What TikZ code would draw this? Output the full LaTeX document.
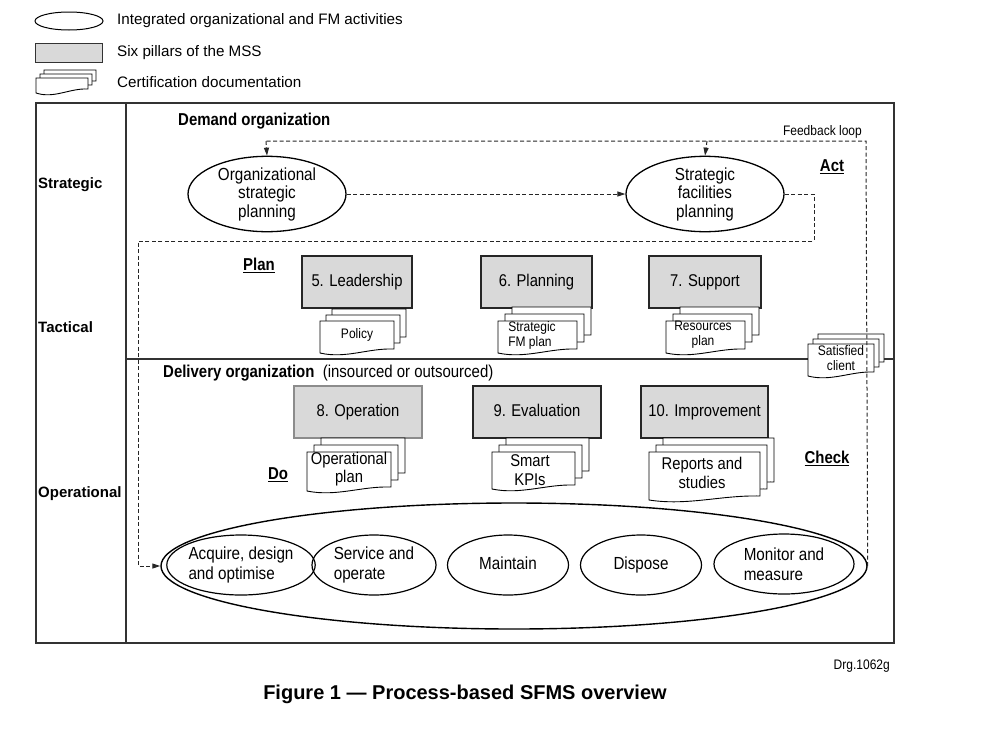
\documentclass[tikz,border=0pt]{standalone}
\usepackage{fontspec}
\setmainfont{Liberation Sans}
\newfontfamily\nar[FakeStretch=0.87,Ligatures=TeX]{Liberation Sans}
\usetikzlibrary{shapes.geometric,arrows.meta,calc}
\definecolor{pillar}{HTML}{D9D9D9}
\newcommand{\fs}[2]{\fontsize{#1}{#2}\selectfont}
\newcommand{\dsheet}[4]{\draw[docline] (#1,#2) -- (#1,#4) .. controls ($(#1,#4)!0.35!(#3,#4)+(0,6)$) and ($(#1,#4)!0.65!(#3,#4)+(0,-5)$) .. (#3,#4-4) -- (#3,#2) -- cycle;}
\newcommand{\dstack}[5]{\dsheet{#1+2*#5}{#2-2*#5}{#3+2*#5}{#4-2*#5}\dsheet{#1+#5}{#2-#5}{#3+#5}{#4-#5}\dsheet{#1}{#2}{#3}{#4}}
\tikzset{
  ell/.style={ellipse, draw, line width=1.3pt, inner sep=0, align=center, font=\nar\fs{17.5}{18.5}},
  sell/.style={ellipse, draw, line width=1.2pt, inner sep=0, align=left, font=\nar\fs{17.5}{19.5}, minimum height=60pt},
  oneline/.style={text height=12.5pt, text depth=3.5pt},
  pillarbox/.style={draw=black!85, line width=1.4pt, fill=pillar, minimum height=52pt, inner sep=0, font=\nar\fs{17}{19}, text height=12.5pt, text depth=3.5pt},
  dsh/.style={dash pattern=on 4pt off 2.5pt, line width=1pt, draw=black!85},
  arr/.style={-{Triangle[length=8pt,width=5pt]}},
  docline/.style={draw, fill=white, line width=0.9pt},
  doctext/.style={align=center, inner sep=0, font=\nar\fs{13.8}{15}},
  bigdoctext/.style={align=center, inner sep=0, font=\nar\fs{17}{18.5}},
  lbl/.style={font=\bfseries\fs{15}{17}, anchor=west, inner sep=0},
  nlbl/.style={font=\nar\bfseries\fs{17.2}{19}, anchor=west, inner sep=0},
  pdca/.style={font=\nar\bfseries\fs{17.2}{19}, inner sep=0},
  legtext/.style={font=\fs{15.2}{17}, anchor=west, inner sep=0},
  frame/.style={draw=black!80, line width=1.3pt}
}
\begin{document}
\begin{tikzpicture}[x=1pt,y=-1pt]
\useasboundingbox (0,0) rectangle (1006,742);
% legend
\node[ellipse, draw, line width=1pt, minimum width=68pt, minimum height=18pt, inner sep=0] (legell) at (69,21) {};
\node[legtext] (legellt) at (117,21) {Integrated organizational and FM activities};
\node[draw=black!80, line width=1pt, fill=pillar, minimum width=67pt, minimum height=19pt, inner sep=0] (legbox) at (68.5,52.5) {};
\node[legtext] (legboxt) at (117,53) {Six pillars of the MSS};
\dstack{36}{78}{88}{93}{4}
\node[legtext] (legdoct) at (117,82) {Certification documentation};
% frame
\draw[frame] (36,103) rectangle (894,643);
\draw[frame] (126,103) -- (126,643);
\draw[frame] (126,359) -- (894,359);
% row labels
\node[lbl] (rstrat) at (38,185) {Strategic};
\node[lbl] (rtact) at (38,327) {Tactical};
\node[lbl] (roper) at (38,494) {Operational};
% headings
\node[nlbl] (demand) at (178,121) {Demand organization};
\node[anchor=west, inner sep=0, font=\nar\fs{17.2}{19}] (delivery) at (163,373) {\textbf{Delivery organization}\ \ (insourced or outsourced)};
\node[anchor=east, inner sep=0, font=\nar\fs{13.8}{15}] (fbl) at (862,132) {Feedback loop};
% PDCA labels
\node[pdca] (act) at (832,167) {\underline{Act}};
\node[pdca] (plan) at (259,265) {\underline{Plan}};
\node[pdca] (do) at (278,475) {\underline{Do}};
\node[pdca] (check) at (827,458) {\underline{Check}};
% strategic ellipses
\node[ell, minimum width=158pt, minimum height=64pt] (org) at (267,194) {Organizational\\strategic\\planning};
\node[ell, minimum width=158pt, minimum height=64pt] (sfp) at (705,194) {Strategic\\facilities\\planning};
% pillars
\node[pillarbox, minimum width=110pt] (lead) at (357,282) {5. Leadership};
\node[pillarbox, minimum width=111pt] (plng) at (536.5,282) {6. Planning};
\node[pillarbox, minimum width=112pt] (supp) at (705,282) {7. Support};
\node[pillarbox, minimum width=128pt, draw=black!45] (oper) at (358,412) {8. Operation};
\node[pillarbox, minimum width=128pt] (eval) at (537,412) {9. Evaluation};
\node[pillarbox, minimum width=127pt] (impr) at (704.5,412) {10. Improvement};
% documents
\dstack{320}{321}{394}{353}{6}
\node[doctext] (policy) at (357,335) {Policy};
\dstack{498}{321}{577}{353}{7}
\node[doctext, align=left] (sfmp) at (532,335) {Strategic\\FM plan};
\dstack{666}{321}{745}{353}{7}
\node[doctext] (res) at (703,335) {Resources\\plan};
\dstack{808}{344}{874}{376}{5}
\node[doctext] (client) at (841,358) {Satisfied\\client};
\dstack{307}{452}{391}{491}{7}
\node[bigdoctext] (opplan) at (349,469) {Operational\\plan};
\dstack{492}{452}{575}{489}{7}
\node[bigdoctext] (kpi) at (530,470) {Smart\\KPIs};
\dstack{649}{452}{760}{500}{7}
\node[bigdoctext] (rep) at (702,473) {Reports and\\studies};
% operational ellipses
\node[ellipse, draw, line width=1.4pt, minimum width=706pt, minimum height=126pt, inner sep=0] (big) at (514,566) {};
\node[sell, minimum width=135pt] (acq) at (241,565) {Acquire, design\\and optimise};
\node[sell, minimum width=124pt] (serv) at (374,565) {Service and\\operate};
\node[sell, oneline, minimum width=121pt] (maint) at (508,565) {Maintain};
\node[sell, oneline, minimum width=121pt] (disp) at (641,565) {Dispose};
\node[sell, minimum width=140pt] (mon) at (784,564) {Monitor and\\measure};
% connectors
\coordinate (fbR) at (866,141);
\coordinate (fbL) at (266,141);
\coordinate (fbM) at (707,141);
\draw[dsh] (big.east) -- (fbR) -- (fbL);
\draw[dsh,arr] (fbL) -- (org.north);
\draw[dsh,arr] (fbM) -- (sfp.north);
\draw[dsh,arr] (org.east) -- (sfp.west);
\coordinate (c1) at (814,194);
\coordinate (c2) at (814,241);
\coordinate (c3) at (138,241);
\coordinate (c4) at (138,566);
\draw[dsh,arr] (sfp.east) -- (c1) -- (c2) -- (c3) -- (c4) -- (big.west);
% captions
\node[anchor=east, inner sep=0, font=\nar\fs{13.8}{15}] (drg) at (890,666) {Drg.1062g};
\node[inner sep=0, font=\bfseries\fs{20}{22}] (cap) at (465,694) {Figure 1 — Process-based SFMS overview};
\end{tikzpicture}
\end{document}
